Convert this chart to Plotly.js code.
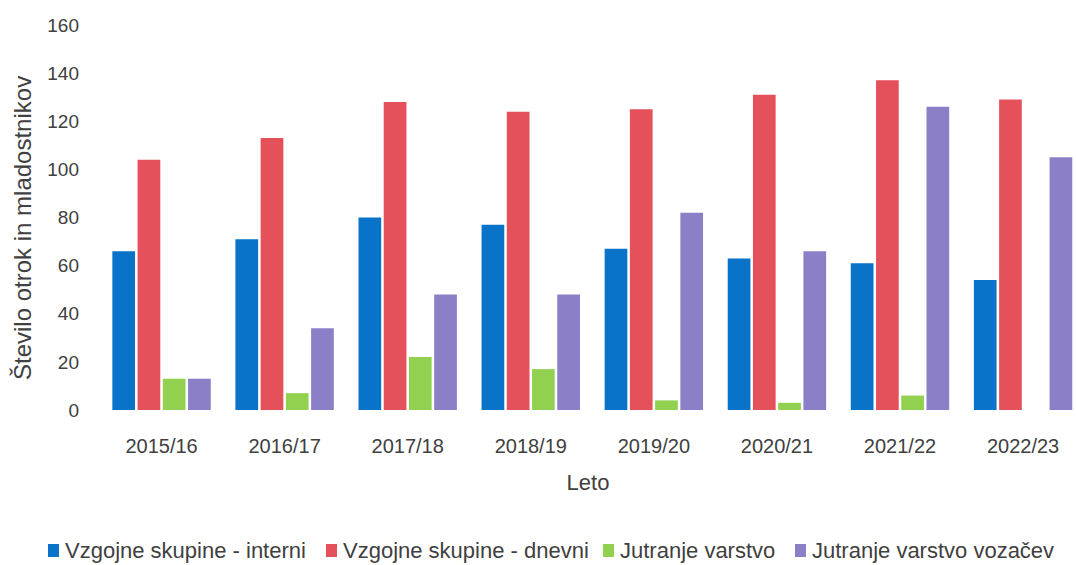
<!DOCTYPE html>
<html>
<head>
<meta charset="utf-8">
<script src="https://cdn.plot.ly/plotly-3.0.1.min.js"></script>
<style>html,body{margin:0;padding:0;background:#fff;}#chart{width:1076px;height:565px;}</style>
</head>
<body>
<div id="chart"></div>
<script>
const categories = ["2015/16","2016/17","2017/18","2018/19","2019/20","2020/21","2021/22","2022/23"];
const seriesNames = ["Vzgojne skupine - interni","Vzgojne skupine - dnevni","Jutranje varstvo","Jutranje varstvo vozačev"];
const interni = [66, 71, 80, 77, 67, 63, 61, 54];
const dnevni = [104, 113, 128, 124, 125, 131, 137, 129];
const jutranje = [13, 7, 22, 17, 4, 3, 6, 0];
const vozacev = [13, 34, 48, 48, 82, 66, 126, 105];
const yTicks = [0, 20, 40, 60, 80, 100, 120, 140, 160];

const colors = ["#0873C9", "#E5515B", "#92D050", "#8B80C8"];
const values = [interni, dnevni, jutranje, vozacev];
const font = "Liberation Sans, Arial, sans-serif";
const txt = "#404040";

// plot-area geometry (pixels) used to place the custom legend
const W = 1076, H = 565, L = 100, R = 0, T = 25, B = 155;
const pw = W - L - R, ph = H - T - B;
const px = x => (x - L) / pw;
const py = y => (H - B - y) / ph;

const data = values.map((v, i) => ({
  type: "bar",
  name: seriesNames[i],
  x: categories,
  y: v,
  marker: {color: colors[i], line: {width: 0}},
  hoverinfo: "x+y+name",
  showlegend: false
}));

const legendMarkX = [48, 326, 603, 795];
const legendY = 550;
const shapes = [];
const annotations = [];
seriesNames.forEach((n, i) => {
  shapes.push({
    type: "rect", xref: "paper", yref: "paper",
    x0: px(legendMarkX[i]), x1: px(legendMarkX[i] + 11),
    y0: py(legendY + 7), y1: py(legendY - 6),
    fillcolor: colors[i], line: {width: 0}
  });
  annotations.push({
    xref: "paper", yref: "paper",
    x: px(legendMarkX[i] + 15), y: py(legendY),
    xanchor: "left", yanchor: "middle",
    text: n, showarrow: false,
    font: {family: font, size: 22, color: txt}
  });
});
annotations.push({
  xref: "paper", yref: "paper",
  x: px(22), y: py(228),
  xanchor: "center", yanchor: "middle",
  textangle: -90,
  text: "Število otrok in mladostnikov", showarrow: false,
  font: {family: font, size: 24, color: txt}
});

const layout = {
  width: W,
  height: H,
  paper_bgcolor: "#ffffff",
  plot_bgcolor: "#ffffff",
  margin: {l: L, r: R, t: T, b: B},
  barmode: "group",
  bargap: 0.18,
  bargroupgap: 0.1,
  showlegend: false,
  shapes: shapes,
  annotations: annotations,
  xaxis: {
    type: "category",
    range: [-0.5, 7.43],
    showgrid: false,
    zeroline: false,
    showline: false,
    ticks: "",
    ticklabelstandoff: 22,
    tickfont: {family: font, size: 20, color: txt},
    title: {text: "Leto", font: {family: font, size: 22, color: txt}, standoff: 18}
  },
  yaxis: {
    range: [0, 160],
    tickvals: yTicks,
    ticktext: yTicks.map(String),
    showgrid: false,
    zeroline: false,
    showline: false,
    ticks: "",
    ticklabelstandoff: 20,
    tickfont: {family: font, size: 19, color: txt}
  }
};

Plotly.newPlot("chart", data, layout, {displayModeBar: false, staticPlot: true});
</script>
</body>
</html>
